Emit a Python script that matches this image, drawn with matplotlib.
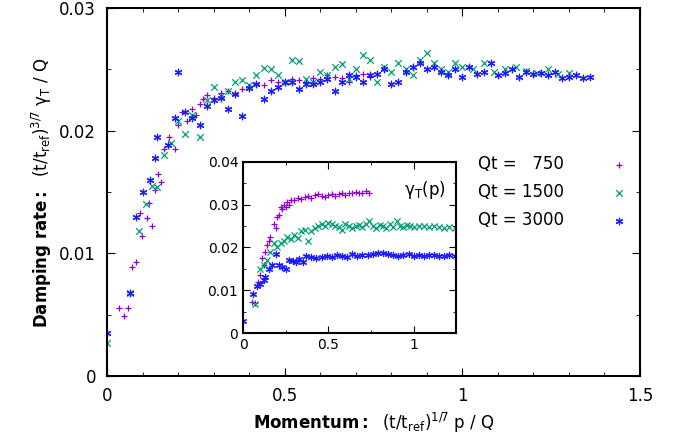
import matplotlib
matplotlib.use("Agg")
import matplotlib.pyplot as plt
from matplotlib.ticker import MultipleLocator

plt.rcParams["mathtext.default"] = "regular"

labels = ["Qt =   750", "Qt = 1500", "Qt = 3000"]
colors = ["#9400d3", "#009e73", "#1a1aff"]

# main panel: scaled momentum vs scaled damping rate
p750_x = [0.034,0.046,0.059,0.071,0.081,0.093,0.099,0.112,0.118,0.127,0.135,0.142,0.15,0.16,0.175,0.19,0.2,0.21,0.225,0.24,0.25,0.26,0.27,0.28,0.3,0.32,0.34,0.36,0.38,0.4,0.42,0.44,0.46,0.48,0.5,0.52,0.54,0.56,0.58,0.6,0.62,0.64,0.66,0.68,0.7,0.72,0.74]
p750_y = [0.0055,0.0049,0.0055,0.0089,0.0093,0.0133,0.0114,0.0129,0.0141,0.0122,0.0152,0.0165,0.0158,0.0185,0.0195,0.0185,0.0205,0.0215,0.0208,0.0218,0.0213,0.0222,0.0226,0.0229,0.0227,0.0231,0.0232,0.0230,0.0234,0.0236,0.0238,0.0237,0.0241,0.0240,0.0239,0.0242,0.0241,0.0240,0.0243,0.0242,0.0245,0.0244,0.0243,0.0240,0.0245,0.0246,0.0244]

p1500_x = [0.0,0.065,0.09,0.11,0.125,0.14,0.16,0.18,0.2,0.22,0.24,0.26,0.28,0.3,0.32,0.34,0.36,0.38,0.4,0.42,0.44,0.46,0.48,0.5,0.52,0.54,0.56,0.58,0.6,0.62,0.64,0.66,0.68,0.7,0.72,0.74,0.76,0.78,0.8,0.82,0.84,0.86,0.88,0.9,0.92,0.94,0.96,0.98,1.0,1.03,1.06,1.09,1.12,1.15,1.18,1.21,1.24,1.27,1.3]
p1500_y = [0.0027,0.0068,0.0118,0.0140,0.0155,0.0154,0.0180,0.0190,0.0208,0.0197,0.0213,0.0195,0.0225,0.0236,0.0228,0.0232,0.0240,0.0241,0.0237,0.0245,0.0251,0.0250,0.0245,0.0240,0.0258,0.0257,0.0242,0.0240,0.0248,0.0245,0.0252,0.0254,0.0242,0.0250,0.0262,0.0258,0.0240,0.0252,0.0248,0.0255,0.0250,0.0245,0.0258,0.0263,0.0255,0.0250,0.0248,0.0255,0.0252,0.0250,0.0255,0.0248,0.0250,0.0252,0.0249,0.0247,0.0250,0.0246,0.0247]

p3000_x = [0.0,0.065,0.08,0.1,0.12,0.135,0.14,0.17,0.19,0.2,0.22,0.24,0.26,0.28,0.3,0.32,0.34,0.36,0.38,0.4,0.42,0.44,0.46,0.48,0.5,0.52,0.54,0.56,0.58,0.6,0.62,0.64,0.66,0.68,0.7,0.72,0.74,0.76,0.78,0.8,0.82,0.84,0.86,0.88,0.9,0.92,0.94,0.96,0.98,1.0,1.02,1.04,1.06,1.08,1.1,1.12,1.14,1.16,1.18,1.2,1.22,1.24,1.26,1.28,1.3,1.32,1.34,1.36]
p3000_y = [0.0035,0.0068,0.0130,0.0150,0.0160,0.0178,0.0195,0.0188,0.0210,0.0248,0.0215,0.0210,0.0205,0.0220,0.0225,0.0227,0.0218,0.0230,0.0212,0.0235,0.0238,0.0226,0.0232,0.0236,0.0240,0.0240,0.0234,0.0238,0.0238,0.0240,0.0242,0.0232,0.0240,0.0245,0.0244,0.0240,0.0245,0.0246,0.0250,0.0238,0.0240,0.0248,0.0252,0.0255,0.0250,0.0252,0.0248,0.0245,0.0250,0.0244,0.0252,0.0246,0.0248,0.0255,0.0245,0.0247,0.0250,0.0244,0.0248,0.0246,0.0247,0.0245,0.0248,0.0243,0.0244,0.0245,0.0243,0.0244]

# inset: gamma_T(p)
i750_x = [0.05,0.07,0.09,0.1,0.11,0.12,0.13,0.14,0.15,0.16,0.18,0.19,0.2,0.21,0.22,0.23,0.24,0.25,0.26,0.27,0.28,0.3,0.32,0.34,0.36,0.38,0.4,0.42,0.44,0.46,0.48,0.5,0.52,0.54,0.56,0.58,0.6,0.62,0.64,0.66,0.68,0.7,0.72,0.74]
i750_y = [0.0072,0.0070,0.0120,0.0135,0.0175,0.0160,0.0190,0.0205,0.0215,0.0225,0.0255,0.0245,0.0270,0.0275,0.0295,0.0290,0.0300,0.0295,0.0305,0.0300,0.0310,0.0310,0.0315,0.0312,0.0318,0.0320,0.0316,0.0322,0.0325,0.0320,0.0318,0.0322,0.0325,0.0320,0.0324,0.0326,0.0322,0.0328,0.0326,0.0330,0.0326,0.0328,0.0332,0.0327]

i1500_x = [0.07,0.1,0.12,0.14,0.16,0.18,0.2,0.22,0.24,0.26,0.28,0.3,0.32,0.34,0.36,0.38,0.4,0.42,0.44,0.46,0.48,0.5,0.52,0.54,0.56,0.58,0.6,0.62,0.64,0.66,0.68,0.7,0.72,0.74,0.76,0.78,0.8,0.82,0.84,0.86,0.88,0.9,0.92,0.94,0.96,0.98,1.0,1.03,1.06,1.09,1.12,1.15,1.18,1.21,1.24]
i1500_y = [0.0068,0.0150,0.0160,0.0170,0.0190,0.0210,0.0200,0.0210,0.0215,0.0225,0.0220,0.0230,0.0222,0.0238,0.0240,0.0215,0.0238,0.0245,0.0250,0.0255,0.0250,0.0258,0.0255,0.0250,0.0248,0.0240,0.0255,0.0250,0.0245,0.0250,0.0252,0.0248,0.0255,0.0262,0.0250,0.0245,0.0252,0.0250,0.0245,0.0255,0.0248,0.0262,0.0250,0.0248,0.0252,0.0250,0.0248,0.0250,0.0249,0.0247,0.0250,0.0248,0.0246,0.0248,0.0245]

i3000_x = [0.0,0.06,0.08,0.1,0.12,0.13,0.15,0.17,0.19,0.21,0.23,0.25,0.27,0.29,0.31,0.33,0.35,0.37,0.4,0.43,0.46,0.49,0.52,0.55,0.58,0.61,0.64,0.67,0.7,0.73,0.76,0.79,0.82,0.85,0.88,0.91,0.94,0.97,1.0,1.03,1.06,1.09,1.12,1.15,1.18,1.21,1.24]
i3000_y = [0.0028,0.0090,0.0110,0.0115,0.0125,0.0130,0.0150,0.0160,0.0185,0.0160,0.0155,0.0150,0.0170,0.0168,0.0165,0.0172,0.0165,0.0180,0.0178,0.0175,0.0178,0.0180,0.0178,0.0182,0.0180,0.0178,0.0185,0.0180,0.0182,0.0183,0.0185,0.0188,0.0186,0.0184,0.0183,0.0180,0.0182,0.0184,0.0181,0.0182,0.0180,0.0183,0.0182,0.0180,0.0181,0.0182,0.0180]

ast = (6, 2, 0)
markers = ["+", "x", ast]

fig = plt.figure(figsize=(6.83, 4.47), dpi=100)
ax = fig.add_axes([0.157, 0.159, 0.780, 0.823])
main = [(p750_x, p750_y), (p1500_x, p1500_y), (p3000_x, p3000_y)]
for (x, y), c, m, l in zip(main, colors, markers, labels):
    ax.scatter(x, y, marker=m, s=22, c=c, linewidths=0.9, label=l)
ax.set_xlim(0, 1.5)
ax.set_ylim(0, 0.03)
ax.set_xticks([0, 0.5, 1, 1.5])
ax.set_xticklabels(["0", "0.5", "1", "1.5"])
ax.set_yticks([0, 0.01, 0.02, 0.03])
ax.set_yticklabels(["0", "0.01", "0.02", "0.03"])
ax.xaxis.set_minor_locator(MultipleLocator(0.1))
ax.yaxis.set_minor_locator(MultipleLocator(0.005))
ax.tick_params(which="both", direction="in", top=True, right=True, labelsize=12)
ax.tick_params(which="major", length=6, pad=8)
ax.tick_params(which="minor", length=3)
for s in ax.spines.values():
    s.set_linewidth(1.5)
ax.set_xlabel(r"$\mathbf{Momentum:}$  $(t/t_{ref})^{1/7}\ p\ /\ Q$", fontsize=12)
ax.set_ylabel(r"$\mathbf{Damping\ rate:}$  $(t/t_{ref})^{3/7}\ \gamma_T\ /\ Q$", fontsize=12)
leg = ax.legend(loc="upper right", bbox_to_anchor=(1.02, 0.64), frameon=False,
                markerfirst=False, fontsize=12, handletextpad=2.3, labelspacing=0.6,
                scatterpoints=1)

ins = fig.add_axes([0.356, 0.255, 0.312, 0.383])
inset = [(i750_x, i750_y), (i1500_x, i1500_y), (i3000_x, i3000_y)]
for (x, y), c, m in zip(inset, colors, markers):
    ins.scatter(x, y, marker=m, s=20, c=c, linewidths=0.9)
ins.set_xlim(0, 1.25)
ins.set_ylim(0, 0.04)
ins.set_xticks([0, 0.5, 1])
ins.set_xticklabels(["0", "0.5", "1"])
ins.set_yticks([0, 0.01, 0.02, 0.03, 0.04])
ins.set_yticklabels(["0", "0.01", "0.02", "0.03", "0.04"])
ins.xaxis.set_minor_locator(MultipleLocator(0.25))
ins.yaxis.set_minor_locator(MultipleLocator(0.005))
ins.tick_params(which="both", direction="in", top=True, right=True, labelsize=10)
ins.tick_params(which="major", length=5)
ins.tick_params(which="minor", length=2.5)
for s in ins.spines.values():
    s.set_linewidth(1.5)
ins.text(0.95, 0.9, r"$\gamma_T$(p)", transform=ins.transAxes, ha="right", va="top", fontsize=12)

fig.savefig("out.png", dpi=100)
